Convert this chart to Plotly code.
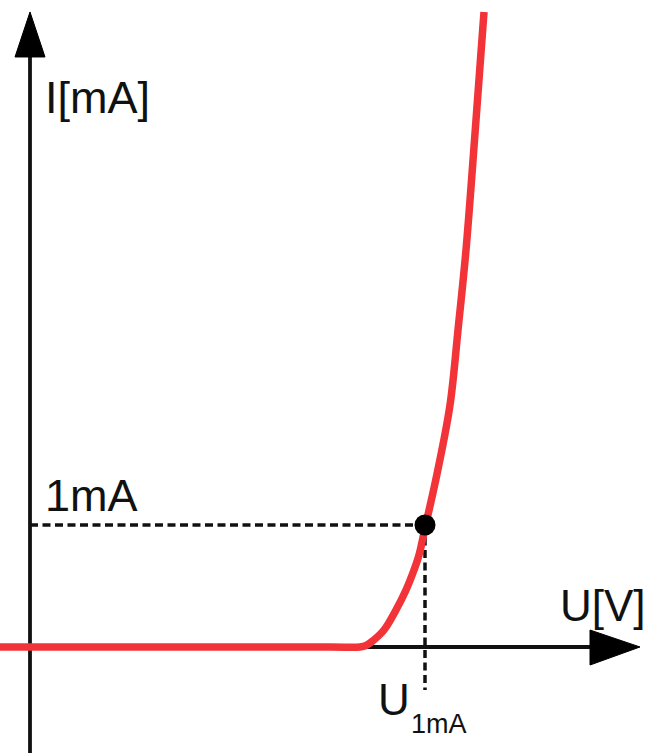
import plotly.graph_objects as go

# diode I-U characteristic (U in V, I in mA)
u_volts = [-0.06, 0.60, 0.66, 0.672, 0.684, 0.708, 0.732, 0.752, 0.768, 0.778, 0.79,
           0.814, 0.84, 0.856, 0.872, 0.892, 0.908]
i_ma = [0.0, 0.0, 0.0, 0.012, 0.045, 0.139, 0.303, 0.467, 0.631, 0.754, 0.975,
        1.418, 1.984, 2.598, 3.254, 4.32, 5.205]

u_1ma = 0.79
i_ref = 1.0

INK = "#111111"
RED = "#f23338"
FONT = "Liberation Sans, Arial, sans-serif"

fig = go.Figure()

fig.add_trace(go.Scatter(
    x=u_volts, y=i_ma, mode="lines",
    line=dict(color=RED, width=7.5, shape="spline", smoothing=1.0),
    hoverinfo="skip", showlegend=False,
))
fig.add_trace(go.Scatter(
    x=[u_1ma], y=[i_ref], mode="markers",
    marker=dict(color="black", size=21),
    hoverinfo="skip", showlegend=False,
))

shapes = [
    # y axis + arrow
    dict(type="line", x0=0, x1=0, y0=-0.9, y1=4.9, line=dict(color=INK, width=3.8), layer="below"),
    dict(type="path", path="M 0 5.205 L -0.03 4.836 L 0.03 4.836 Z",
         fillcolor="black", line=dict(color="black", width=1), layer="below"),
    # x axis + arrow
    dict(type="line", x0=-0.07, x1=1.14, y0=0, y1=0, line=dict(color=INK, width=3.8), layer="below"),
    dict(type="path", path="M 1.22 0 L 1.12 0.139 L 1.12 -0.148 Z",
         fillcolor="black", line=dict(color="black", width=1), layer="below"),
    # dashed guides to the 1 mA point
    dict(type="line", x0=0, x1=u_1ma, y0=i_ref, y1=i_ref,
         line=dict(color=INK, width=3.5, dash="8px,4.5px"), layer="below"),
    dict(type="line", x0=u_1ma, x1=u_1ma, y0=i_ref, y1=-0.352,
         line=dict(color=INK, width=3.5, dash="8px,4.5px"), layer="below"),
]

def label(text, x, y, size):
    return dict(text=text, x=x, y=y, xref="x", yref="y", showarrow=False,
                xanchor="left", yanchor="middle",
                font=dict(family=FONT, size=size, color=INK))

annotations = [
    label("I[mA]", 0.025, 4.5, 45),
    label("1mA", 0.025, 1.24, 45),
    label("U[V]", 1.055, 0.336, 44),
    label("U", 0.692, -0.434, 44),
    label("1mA", 0.757, -0.63, 27),
]

fig.update_layout(
    width=647, height=753,
    margin=dict(l=0, r=0, t=0, b=0),
    paper_bgcolor="white", plot_bgcolor="white",
    xaxis=dict(range=[-0.06, 1.234], visible=False, fixedrange=True),
    yaxis=dict(range=[-0.869, 5.303], visible=False, fixedrange=True),
    shapes=shapes, annotations=annotations,
)

fig.write_html("out.html", config={"displayModeBar": False},
               post_script="document.body.style.margin='0px';")
